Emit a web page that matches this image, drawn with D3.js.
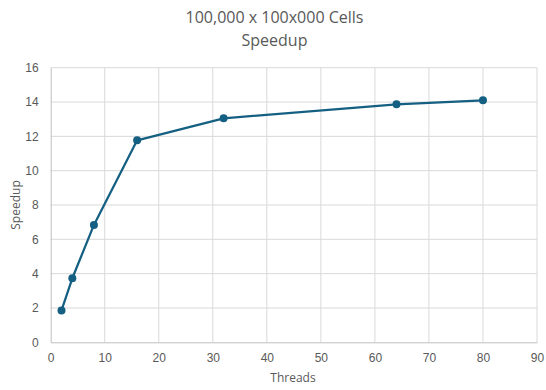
<!DOCTYPE html>
<html>
<head>
<meta charset="utf-8">
<script src="https://cdn.jsdelivr.net/npm/d3@7"></script>
<style>
  body { margin: 0; background: #fff; }
  svg text { font-family: "Open Sans", "Liberation Sans", sans-serif; fill: #595959; }
</style>
</head>
<body>
<div id="chart"></div>
<script>
// data
var threads = [2, 4, 8, 16, 32, 64, 80];
var speedup = [1.86, 3.73, 6.84, 11.77, 13.05, 13.87, 14.1];
var xTicks = [0, 10, 20, 30, 40, 50, 60, 70, 80, 90];
var yTicks = [0, 2, 4, 6, 8, 10, 12, 14, 16];
var titleLines = ["100,000 x 100x000 Cells", "Speedup"];

var W = 546, H = 390;
var margin = {top: 67.7, right: 9, bottom: 47.7, left: 50.7};

var svg = d3.select("#chart").append("svg")
    .attr("width", W)
    .attr("height", H);

var x = d3.scaleLinear().domain([0, 90]).range([margin.left, W - margin.right]);
var y = d3.scaleLinear().domain([0, 16]).range([H - margin.bottom, margin.top]);

// gridlines
svg.append("g").selectAll("line.h").data(yTicks.slice(1)).enter().append("line")
    .attr("x1", x(0)).attr("x2", x(90))
    .attr("y1", function(d){ return y(d); }).attr("y2", function(d){ return y(d); })
    .attr("stroke", "#d9d9d9").attr("stroke-width", 1);
svg.append("g").selectAll("line.v").data(xTicks.slice(1)).enter().append("line")
    .attr("y1", y(0)).attr("y2", y(16))
    .attr("x1", function(d){ return x(d); }).attr("x2", function(d){ return x(d); })
    .attr("stroke", "#d9d9d9").attr("stroke-width", 1);

// axes (no tick marks, just labels)
var xAxis = svg.append("g").attr("transform", "translate(0," + y(0) + ")")
    .call(d3.axisBottom(x).tickValues(xTicks).tickSize(0).tickPadding(11));
xAxis.select(".domain").attr("stroke", "#bfbfbf");
xAxis.selectAll("text").style("font-size", "12px").style("font-family", "Liberation Sans, Arial, sans-serif").attr("fill", "#595959");

var yAxis = svg.append("g").attr("transform", "translate(" + x(0) + ",0)")
    .call(d3.axisLeft(y).tickValues(yTicks).tickSize(0).tickPadding(12));
yAxis.select(".domain").attr("stroke", "#bfbfbf");
yAxis.selectAll("text").style("font-size", "12px").style("font-family", "Liberation Sans, Arial, sans-serif").attr("fill", "#595959");

// titles
svg.selectAll("text.title").data(titleLines).enter().append("text")
    .attr("class", "title")
    .attr("x", 274.5)
    .attr("y", function(d, i){ return 23 + i * 23; })
    .attr("text-anchor", "middle")
    .style("font-size", "16px")
    .text(function(d){ return d; });

svg.append("text")
    .attr("x", 293).attr("y", 382)
    .attr("text-anchor", "middle")
    .style("font-size", "12px")
    .text("Threads");

svg.append("text")
    .attr("transform", "translate(20," + y(8) + ") rotate(-90)")
    .attr("text-anchor", "middle")
    .style("font-size", "12px")
    .text("Speedup");

// line + markers
var pts = threads.map(function(t, i){ return [t, speedup[i]]; });
var line = d3.line().x(function(d){ return x(d[0]); }).y(function(d){ return y(d[1]); });

svg.append("path")
    .datum(pts)
    .attr("d", line)
    .attr("fill", "none")
    .attr("stroke", "#156082")
    .attr("stroke-width", 2.25)
    .attr("stroke-linejoin", "round");

svg.selectAll("circle.pt").data(pts).enter().append("circle")
    .attr("class", "pt")
    .attr("cx", function(d){ return x(d[0]); })
    .attr("cy", function(d){ return y(d[1]); })
    .attr("r", 4)
    .attr("fill", "#156082");
</script>
</body>
</html>
